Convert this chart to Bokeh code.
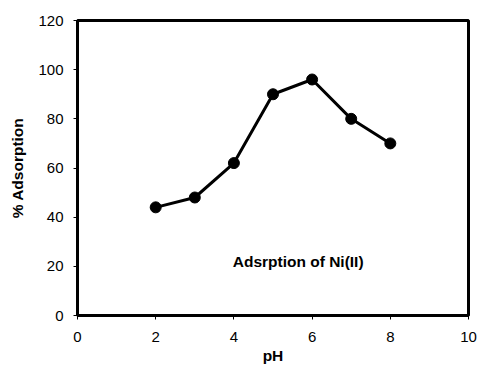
from bokeh.plotting import figure
from bokeh.models import Range1d, Label, FixedTicker
from bokeh.embed import file_html
from bokeh.resources import INLINE

ph = [2, 3, 4, 5, 6, 7, 8]
adsorption = [44, 48, 62, 90, 96, 80, 70]
x_ticks = [0, 2, 4, 6, 8, 10]
y_ticks = [0, 20, 40, 60, 80, 100, 120]

p = figure(width=479, height=369, output_backend="svg", toolbar_location=None,
           x_range=Range1d(0, 10), y_range=Range1d(0, 120),
           min_border_left=77, min_border_right=11, min_border_top=20, min_border_bottom=54)
p.background_fill_color = "white"
p.border_fill_color = "white"
p.outline_line_color = "black"
p.outline_line_width = 3
p.grid.visible = False

font = "Liberation Sans"
for ax in (p.xaxis, p.yaxis):
    ax.axis_line_width = 3
    ax.axis_line_color = "black"
    ax.major_tick_in = 0
    ax.major_tick_out = 4
    ax.minor_tick_line_color = None
    ax.major_label_text_font = font
    ax.major_label_text_font_size = "15px"
    ax.major_label_text_color = "black"
    ax.axis_label_text_font = font
    ax.axis_label_text_font_size = "15.5px"
    ax.axis_label_text_font_style = "bold"
    ax.axis_label_text_color = "black"

p.xaxis.ticker = FixedTicker(ticks=x_ticks)
p.yaxis.ticker = FixedTicker(ticks=y_ticks)
p.xaxis.axis_label = "pH"
p.yaxis.axis_label = "% Adsorption"
p.xaxis.major_label_standoff = 12
p.yaxis.major_label_standoff = 10
p.xaxis.axis_label_standoff = 2
p.yaxis.axis_label_standoff = 9

p.line(ph, adsorption, line_color="black", line_width=3)
p.scatter(ph, adsorption, size=11, fill_color="black", line_color="black")

p.add_layout(Label(x=3.97, y=21.8, text="Adsrption of Ni(II)", text_font=font,
                   text_font_size="15.5px", text_font_style="bold", text_color="black",
                   text_baseline="middle"))

open("out.html", "w").write(file_html(p, INLINE))
